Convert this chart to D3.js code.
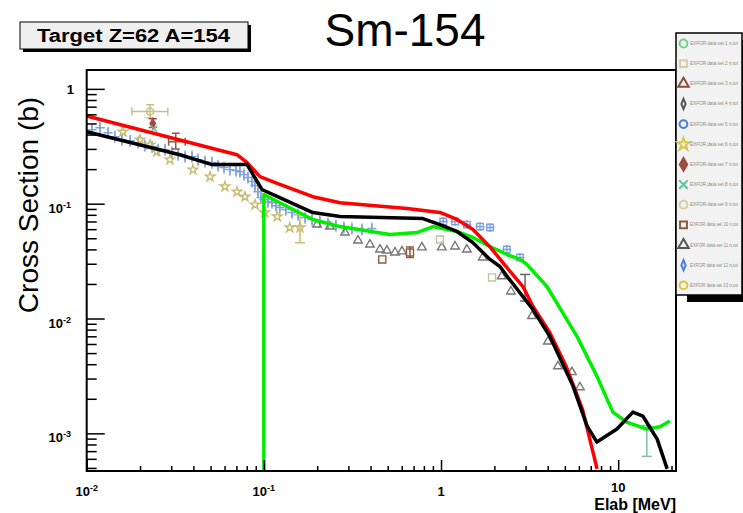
<!DOCTYPE html>
<html>
<head>
<meta charset="utf-8">
<script src="https://cdn.jsdelivr.net/npm/d3@7/dist/d3.min.js"></script>
<style>
  body { margin: 0; background: #fff; }
  svg { display: block; }
  text { font-family: "Liberation Sans", Arial, sans-serif; }
</style>
</head>
<body>
<div id="chart"></div>
<script>
// evaluated curves (energy in MeV, cross section in b)
const redE = [0.01, 0.0705, 0.0804, 0.095, 0.123, 0.189, 0.269, 0.643, 0.986, 1.23, 1.51, 1.89, 2.3, 2.9, 3.3, 4.1, 5.1, 6.3, 7.6]
const redS = [0.58, 0.267, 0.228, 0.172, 0.147, 0.115, 0.102, 0.091, 0.084, 0.073, 0.060, 0.042, 0.029, 0.019, 0.0128, 0.0076, 0.0038, 0.0016, 0.00049]

const blackE = [0.01, 0.0336, 0.051, 0.0804, 0.0975, 0.123, 0.189, 0.269, 0.79, 0.986, 1.23, 1.51, 1.89, 2.15, 2.36, 3.3, 4.11, 5.56, 6.67, 7.58, 9.84, 12.1, 13.8, 16.6, 18.9]
const blackS = [0.423, 0.267, 0.219, 0.219, 0.133, 0.113, 0.0837, 0.0773, 0.0742, 0.0658, 0.0573, 0.0459, 0.0327, 0.0284, 0.0233, 0.012, 0.0070, 0.00258, 0.00116, 0.00084, 0.00109, 0.00153, 0.00141, 0.00089, 0.00049]

const greenE = [0.1, 0.1, 0.123, 0.189, 0.269, 0.515, 0.731, 0.90, 1.23, 1.51, 1.89, 2.36, 2.79, 3.05, 3.96, 5.85, 7.58, 9.33, 11.2, 14.5, 17.2, 19.6]
const greenS = [1e-5, 0.12, 0.102, 0.0728, 0.0632, 0.054, 0.056, 0.0632, 0.0573, 0.0508, 0.0424, 0.0361, 0.0327, 0.0296, 0.019, 0.0070, 0.00315, 0.00153, 0.00125, 0.00109, 0.00114, 0.00128]

// measured data sets
const bandE = [0.0107, 0.0119, 0.0132, 0.0144, 0.0158, 0.0176, 0.0195, 0.0213, 0.0234, 0.0253, 0.0277, 0.0303, 0.0328, 0.0359, 0.0393, 0.0425, 0.0465, 0.0509, 0.0551, 0.0596, 0.0644, 0.0696, 0.0733, 0.0772, 0.0813, 0.0857, 0.0891, 0.0926, 0.0963, 0.100, 0.1055, 0.111, 0.117, 0.123, 0.133, 0.144, 0.156, 0.171, 0.187, 0.207, 0.230, 0.255, 0.283, 0.314, 0.358, 0.407]
const bandS = [0.440, 0.458, 0.415, 0.383, 0.360, 0.353, 0.340, 0.320, 0.313, 0.295, 0.295, 0.278, 0.267, 0.257, 0.257, 0.242, 0.232, 0.228, 0.214, 0.206, 0.198, 0.194, 0.190, 0.179, 0.169, 0.156, 0.144, 0.127, 0.113, 0.1085, 0.104, 0.102, 0.096, 0.0925, 0.0889, 0.0837, 0.0804, 0.0757, 0.0727, 0.0699, 0.0672, 0.0645, 0.0620, 0.0608, 0.0596, 0.0608]
const bandErr = 0.13

const blueHiE = [1.03, 1.20, 1.40, 1.66, 1.89, 2.35, 2.79]
const blueHiS = [0.070, 0.070, 0.0658, 0.0632, 0.062, 0.0399, 0.034]

const starE = [0.016, 0.020, 0.0228, 0.0249, 0.0295, 0.0398, 0.0497, 0.0603, 0.0705, 0.0782, 0.0891, 0.101, 0.119, 0.140, 0.160]
const starS = [0.423, 0.360, 0.326, 0.284, 0.242, 0.198, 0.172, 0.141, 0.127, 0.115, 0.098, 0.0837, 0.0773, 0.062, 0.062]
const starLo = [null, null, null, null, null, null, null, null, null, null, null, null, null, null, 0.0458]
const starHi = [null, null, null, null, null, null, null, null, null, null, null, null, null, null, 0.0805]

const triE = [0.1995, 0.236, 0.287, 0.340, 0.397, 0.452, 0.495, 0.550, 0.602, 0.780, 1.01, 1.20, 1.40, 1.72, 2.20, 2.48, 3.26, 4.01, 4.57, 5.48, 6.08]
const triS = [0.0658, 0.0632, 0.0561, 0.0478, 0.0441, 0.0399, 0.0391, 0.0376, 0.0384, 0.0416, 0.0416, 0.0424, 0.0399, 0.0340, 0.0233, 0.0172, 0.0105, 0.0063, 0.00384, 0.00341, 0.00252]

const brownSqE = [0.466, 0.668, 0.0318]
const brownSqS = [0.0327, 0.0376, 0.346]
const brownSqLo = [null, 0.034, 0.30]
const brownSqHi = [null, 0.042, 0.41]
const brownSqXLo = [null, null, 0.029]
const brownSqXHi = [null, null, 0.036]

const tanSqE = [0.986, 1.94]
const tanSqS = [0.0488, 0.0228]

const tanCircE = [0.0228], tanCircS = [0.635], tanCircLo = [0.56], tanCircHi = [0.726], tanCircXLo = [0.018], tanCircXHi = [0.0287]
const brownDiaE = [0.0236], brownDiaS = [0.50], brownDiaLo = [0.46], brownDiaHi = [0.55]
const tealE = [0.024, 14.5], tealS = [0.45, 0.00086], tealLo = [null, 0.00063], tealHi = [null, 0.00117]
const grayDiaE = [2.98], grayDiaS = [0.0187], grayDiaLo = [0.0142], grayDiaHi = [0.0242]

// axes
const xMajor = [0.01, 0.1, 1, 10]
const xLabelBase = ["10", "10", "1", "10"]
const xLabelExp = ["-2", "-1", "", ""]
const yMajor = [1, 0.1, 0.01, 0.001]
const yLabelBase = ["1", "10", "10", "10"]
const yLabelExp = ["", "-1", "-2", "-3"]

const legendNames = [
    "EXFOR data set 1  n,tot", "EXFOR data set 2  n,tot", "EXFOR data set 3  n,tot",
    "EXFOR data set 4  n,tot", "EXFOR data set 5  n,tot", "EXFOR data set 6  n,tot",
    "EXFOR data set 7  n,tot", "EXFOR data set 8  n,tot", "EXFOR data set 9  n,tot",
    "EXFOR data set 10 n,tot", "EXFOR data set 11 n,tot", "EXFOR data set 12 n,tot",
    "EXFOR data set 13 n,tot"
]
const legendSymbols = ["circle", "square", "triangle", "thinDiamond", "circle", "star", "diamond", "x", "circle", "square", "triangle", "thinDiamond", "circle"]
const legendColors = ["#6fcf8f", "#d8cfa0", "#8b4a3a", "#555", "#3f7fdf", "#d8c850", "#a04a40", "#5fc0a0", "#d8cfa0", "#8b5a40", "#555", "#4a80d8", "#d8c840"]

const width = 743, height = 513
const pLeft = 86.7, pRight = 676, pTop = 70, pBottom = 471

const svg = d3.select("#chart").append("svg")
    .attr("width", width)
    .attr("height", height)

const x = d3.scaleLog().domain([0.01, 21.2]).range([pLeft, pRight])
const y = d3.scaleLog().domain([4.7e-4, 1.46]).range([pBottom, pTop])

const zip = (E, S, extra = {}) => E.map((e, i) => {
    const d = {e: e, s: S[i]}
    for (const k in extra) d[k] = extra[k][i]
    return d
})

svg.append("clipPath").attr("id", "plotclip")
    .append("rect")
    .attr("x", pLeft).attr("y", pTop)
    .attr("width", pRight - pLeft).attr("height", pBottom - pTop)

const plot = svg.append("g").attr("clip-path", "url(#plotclip)")

// ---- error bars with caps
function errorBars(data, color, cap) {
    data.forEach(d => {
        const cx = x(d.e)
        if (d.lo != null) {
            plot.append("line").attr("x1", cx).attr("x2", cx)
                .attr("y1", y(d.lo)).attr("y2", y(d.hi))
                .attr("stroke", color).attr("stroke-width", 1.5)
            if (cap) {
                [d.lo, d.hi].forEach(v => plot.append("line")
                    .attr("x1", cx - cap).attr("x2", cx + cap)
                    .attr("y1", y(v)).attr("y2", y(v))
                    .attr("stroke", color).attr("stroke-width", 1.5))
            }
        }
        if (d.xlo != null) {
            plot.append("line").attr("x1", x(d.xlo)).attr("x2", x(d.xhi))
                .attr("y1", y(d.s)).attr("y2", y(d.s))
                .attr("stroke", color).attr("stroke-width", 1.5)
            if (cap) {
                [d.xlo, d.xhi].forEach(v => plot.append("line")
                    .attr("x1", x(v)).attr("x2", x(v))
                    .attr("y1", y(d.s) - cap).attr("y2", y(d.s) + cap)
                    .attr("stroke", color).attr("stroke-width", 1.5))
            }
        }
    })
}

function symbolPath(kind, size) {
    switch (kind) {
        case "circle": return d3.symbol().type(d3.symbolCircle).size(size)()
        case "square": return d3.symbol().type(d3.symbolSquare).size(size)()
        case "triangle": return d3.symbol().type(d3.symbolTriangle).size(size)()
        case "diamond": return d3.symbol().type(d3.symbolDiamond).size(size)()
        case "star": return d3.symbol().type(d3.symbolStar).size(size)()
        case "x": return d3.symbol().type(d3.symbolX).size(size)()
        case "plus": return d3.symbol().type(d3.symbolPlus).size(size)()
        case "thinDiamond": {
            const r = Math.sqrt(size) / 2
            return `M0,${-r * 1.3}L${r * 0.55},0L0,${r * 1.3}L${-r * 0.55},0Z`
        }
    }
}

function markers(g, data, kind, color, size, filled) {
    g.selectAll(null)
        .data(data)
        .enter().append("path")
        .attr("transform", d => `translate(${x(d.e)},${y(d.s)})`)
        .attr("d", symbolPath(kind, size))
        .attr("fill", filled ? color : "none")
        .attr("stroke", color)
        .attr("stroke-width", 1.4)
}

// ---- measured data
const band = bandE.map((e, i) => ({e: e, s: bandS[i], lo: bandS[i] / (1 + bandErr), hi: bandS[i] * (1 + bandErr)}))
errorBars(band, "#8aa6e2", 0)
markers(plot, band, "plus", "#7f9fe0", 30, false)

const blueHi = zip(blueHiE, blueHiS)
markers(plot, blueHi, "square", "#7f9fe0", 42, false)
markers(plot, blueHi, "plus", "#7f9fe0", 28, false)

const stars = zip(starE, starS, {lo: starLo, hi: starHi})
errorBars(stars, "#c8bc70", 5)
markers(plot, stars, "star", "#c8bc70", 28, false)

markers(plot, zip(triE, triS), "triangle", "#777", 32, false)

const brownSq = zip(brownSqE, brownSqS, {lo: brownSqLo, hi: brownSqHi, xlo: brownSqXLo, xhi: brownSqXHi})
errorBars(brownSq, "#8b5a40", 4)
markers(plot, brownSq.slice(0, 2), "square", "#8b5a40", 50, false)

markers(plot, zip(tanSqE, tanSqS), "square", "#c8c0a0", 50, false)

const tanCirc = zip(tanCircE, tanCircS, {lo: tanCircLo, hi: tanCircHi, xlo: tanCircXLo, xhi: tanCircXHi})
errorBars(tanCirc, "#c8bf80", 4)
markers(plot, tanCirc, "circle", "#c8bf80", 40, false)

const brownDia = zip(brownDiaE, brownDiaS, {lo: brownDiaLo, hi: brownDiaHi})
errorBars(brownDia, "#a04a40", 4)
markers(plot, brownDia, "diamond", "#a04a40", 25, true)

const teal = zip(tealE, tealS, {lo: tealLo, hi: tealHi})
errorBars(teal, "#7fbf9f", 5)
markers(plot, teal.slice(0, 1), "x", "#5fc0a0", 25, false)

const grayDia = zip(grayDiaE, grayDiaS, {lo: grayDiaLo, hi: grayDiaHi})
errorBars(grayDia, "#666", 5)

// ---- evaluated curves
const line = d3.line().x(d => x(d.e)).y(d => y(d.s))
const curves = [[greenE, greenS, "#00ee00"], [redE, redS, "#ff0000"], [blackE, blackS, "#000000"]]
curves.forEach(c => {
    plot.append("path")
        .datum(zip(c[0], c[1]))
        .attr("d", line)
        .attr("fill", "none")
        .attr("stroke", c[2])
        .attr("stroke-width", 3.5)
        .attr("stroke-linejoin", "round")
})

// ---- ticks (ROOT style, pointing inward)
const minorOf = (majors, lo, hi) => {
    const out = []
    majors.forEach(m => { for (let k = 2; k <= 9; k++) if (m * k >= lo && m * k <= hi) out.push(m * k) })
    return out
}
const xMinor = minorOf([0.01, 0.1, 1, 10], 0.01, 21.2)
const yMinor = minorOf([0.0001, 0.001, 0.01, 0.1, 1], 4.7e-4, 1.46)

const gx = svg.append("g").attr("transform", `translate(0,${pBottom})`)
gx.append("g").call(d3.axisTop(x).tickValues(xMinor).tickSize(5).tickFormat(""))
gx.append("g").call(d3.axisTop(x).tickValues(xMajor).tickSize(11).tickFormat(""))

const gy = svg.append("g").attr("transform", `translate(${pLeft},0)`)
gy.append("g").call(d3.axisRight(y).tickValues(yMinor).tickSize(10).tickFormat(""))
gy.append("g").call(d3.axisRight(y).tickValues(yMajor).tickSize(18).tickFormat(""))

svg.selectAll(".domain").remove()
svg.selectAll(".tick line").attr("stroke", "#000").attr("stroke-width", 1.5)

// frame
svg.append("rect")
    .attr("x", pLeft).attr("y", pTop)
    .attr("width", pRight - pLeft).attr("height", pBottom - pTop)
    .attr("fill", "none").attr("stroke", "#000").attr("stroke-width", 2)

// tick labels
function powerLabel(t, base, exp) {
    t.append("tspan").text(base)
    if (exp) t.append("tspan").attr("dy", -5).style("font-size", "9px").text(exp)
}
xMajor.forEach((v, i) => {
    const t = svg.append("text")
        .attr("x", x(v)).attr("y", v === 10 ? 492 : 496)
        .attr("text-anchor", "middle")
        .style("font-size", "13px").style("font-weight", "bold")
    powerLabel(t, xLabelBase[i], xLabelExp[i])
})
yMajor.forEach((v, i) => {
    const t = svg.append("text")
        .attr("x", yLabelExp[i] ? 71 : 74)
        .attr("y", y(v) + (yLabelExp[i] ? 9 : 5))
        .attr("text-anchor", "end")
        .style("font-size", "13px").style("font-weight", "bold")
    powerLabel(t, yLabelBase[i], yLabelExp[i])
})

// axis titles
svg.append("text")
    .attr("x", pRight).attr("y", 510)
    .attr("text-anchor", "end")
    .style("font-size", "16px").style("font-weight", "bold")
    .text("Elab [MeV]")

svg.append("text")
    .attr("transform", "translate(38,205) rotate(-90)")
    .attr("text-anchor", "middle")
    .style("font-size", "28px")
    .text("Cross Section (b)")

// title
svg.append("text")
    .attr("x", 405).attr("y", 46)
    .attr("text-anchor", "middle")
    .style("font-size", "46px")
    .text("Sm-154")

// target box
svg.append("rect").attr("x", 23).attr("y", 25).attr("width", 228).attr("height", 27).attr("fill", "#000")
svg.append("rect").attr("x", 20).attr("y", 22).attr("width", 228).attr("height", 27)
    .attr("fill", "#efefef").attr("stroke", "#000").attr("stroke-width", 1)
svg.append("text")
    .attr("x", 37).attr("y", 42)
    .attr("textLength", 193).attr("lengthAdjust", "spacingAndGlyphs")
    .style("font-size", "18px").style("font-weight", "bold")
    .text("Target Z=62 A=154")

// legend
const leg = svg.append("g")
leg.append("rect").attr("x", 687).attr("y", 40).attr("width", 66).attr("height", 262).attr("fill", "#000")
leg.append("rect").attr("x", 676).attr("y", 33).attr("width", 66).attr("height", 262)
    .attr("fill", "#f2f2f2").attr("stroke", "#000").attr("stroke-width", 1.5)
legendNames.forEach((name, i) => {
    const ly = 43.5 + i * 20.15
    leg.append("path")
        .attr("transform", `translate(683.5,${ly})`)
        .attr("d", symbolPath(legendSymbols[i], legendSymbols[i] === "thinDiamond" ? 60 : 48))
        .attr("fill", legendSymbols[i] === "diamond" ? legendColors[i] : "none")
        .attr("stroke", legendColors[i])
        .attr("stroke-width", 2)
    leg.append("text")
        .attr("x", 690).attr("y", ly + 1.5)
        .attr("textLength", 48).attr("lengthAdjust", "spacingAndGlyphs")
        .style("font-size", "4.5px")
        .style("fill", "#888")
        .text(name)
})
</script>
</body>
</html>
